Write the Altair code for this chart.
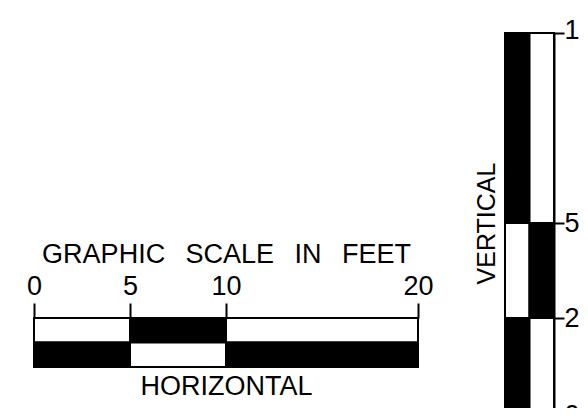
import altair as alt
import pandas as pd

# ---- Horizontal graphic scale (feet) ----
h_start = [0, 5, 10]
h_end = [5, 10, 20]
h_top_fill = ["white", "black", "white"]
h_bottom_fill = ["black", "white", "black"]
h_ticks = [0, 5, 10, 20]
h_title = "GRAPHIC\u00a0\u2009 SCALE\u00a0\u2009 IN\u00a0\u2009 FEET"
h_label = "HORIZONTAL"

# ---- Vertical graphic scale (feet) ----
v_start = [0, 2.5, 5]
v_end = [2.5, 5, 10]
v_left_fill = ["black", "white", "black"]
v_right_fill = ["white", "black", "white"]
v_ticks = [0, 2.5, 5, 10]
v_label = "VERTICAL"

FONT = "Liberation Sans"

h_rows = []
for s, e, t, b in zip(h_start, h_end, h_top_fill, h_bottom_fill):
    h_rows.append({"start": s, "end": e, "lo": 1, "hi": 2, "fill": t})
    h_rows.append({"start": s, "end": e, "lo": 0, "hi": 1, "fill": b})
h_df = pd.DataFrame(h_rows)
h_rule_df = pd.DataFrame({"tick": h_ticks, "lo": 0, "hi": 2})

v_rows = []
for s, e, l, r in zip(v_start, v_end, v_left_fill, v_right_fill):
    v_rows.append({"start": s, "end": e, "c0": 0, "c1": 1, "fill": l})
    v_rows.append({"start": s, "end": e, "c0": 1, "c1": 2, "fill": r})
v_df = pd.DataFrame(v_rows)
v_rule_df = pd.DataFrame({"tick": v_ticks, "lo": 0, "hi": 2})

W, H = 572, 400

hx = alt.Scale(domain=[0, 20], range=[26, 410])
hy = alt.Scale(domain=[0, 2], range=[359, 310])
vx = alt.Scale(domain=[0, 2], range=[497, 546])
vy = alt.Scale(domain=[0, 10], range=[405, 25])

common_axis = dict(grid=False, labelFont=FONT, titleFont=FONT,
                   labelColor="black", titleColor="black",
                   titleFontWeight="normal", domainColor="black",
                   tickColor="black", domainWidth=2, tickWidth=2)

h_rects = alt.Chart(h_df).mark_rect(stroke="black", strokeWidth=2).encode(
    x=alt.X("start:Q", scale=hx, axis=alt.Axis(
        orient="top", offset=-310, values=h_ticks, tickSize=15,
        labelFontSize=27, labelFlush=False, labelPadding=3,
        labelExpr="'' + datum.value",
        labelOverlap=False, title=h_title, titleFontSize=27,
        titlePadding=4, **common_axis)),
    x2="end:Q",
    y=alt.Y("lo:Q", scale=hy, axis=None),
    y2="hi:Q",
    fill=alt.Fill("fill:N", scale=None),
)

h_rules = alt.Chart(h_rule_df).mark_rule(color="black", strokeWidth=2).encode(
    x=alt.X("tick:Q", scale=hx, axis=alt.Axis(
        orient="bottom", offset=-(H - 359), labels=False, ticks=False,
        domain=False, title=h_label, titleFontSize=27, titlePadding=6,
        **common_axis)),
    y=alt.Y("lo:Q", scale=hy, axis=None),
    y2="hi:Q",
)

v_rects = alt.Chart(v_df).mark_rect(stroke="black", strokeWidth=2).encode(
    x=alt.X("c0:Q", scale=vx, axis=None),
    x2="c1:Q",
    y=alt.Y("start:Q", scale=vy, axis=alt.Axis(
        orient="right", offset=-(W - 546), values=v_ticks, tickSize=10,
        labelFontSize=27, labelFlush=True, labelFlushOffset=16,
        labelPadding=0, labelOverlap=False,
        labelExpr="'' + datum.value", title=None,
        **common_axis)),
    y2="end:Q",
    fill=alt.Fill("fill:N", scale=None),
)

v_rules = alt.Chart(v_rule_df).mark_rule(color="black", strokeWidth=2).encode(
    x=alt.X("lo:Q", scale=vx, axis=None),
    x2="hi:Q",
    y=alt.Y("tick:Q", scale=vy, axis=alt.Axis(
        orient="left", offset=-497, labels=False, ticks=False, domain=False,
        title=v_label, titleFontSize=25, titlePadding=6, **common_axis)),
)

chart = alt.layer(h_rects, h_rules, v_rects, v_rules).resolve_scale(
    x="independent", y="independent"
).resolve_axis(
    x="independent", y="independent"
).properties(
    width=W, height=H, padding=0, background="white",
    autosize=alt.AutoSizeParams(type="none"),
).configure_view(stroke=None)

chart.save("out.html", embed_options={"renderer": "svg", "actions": False})
